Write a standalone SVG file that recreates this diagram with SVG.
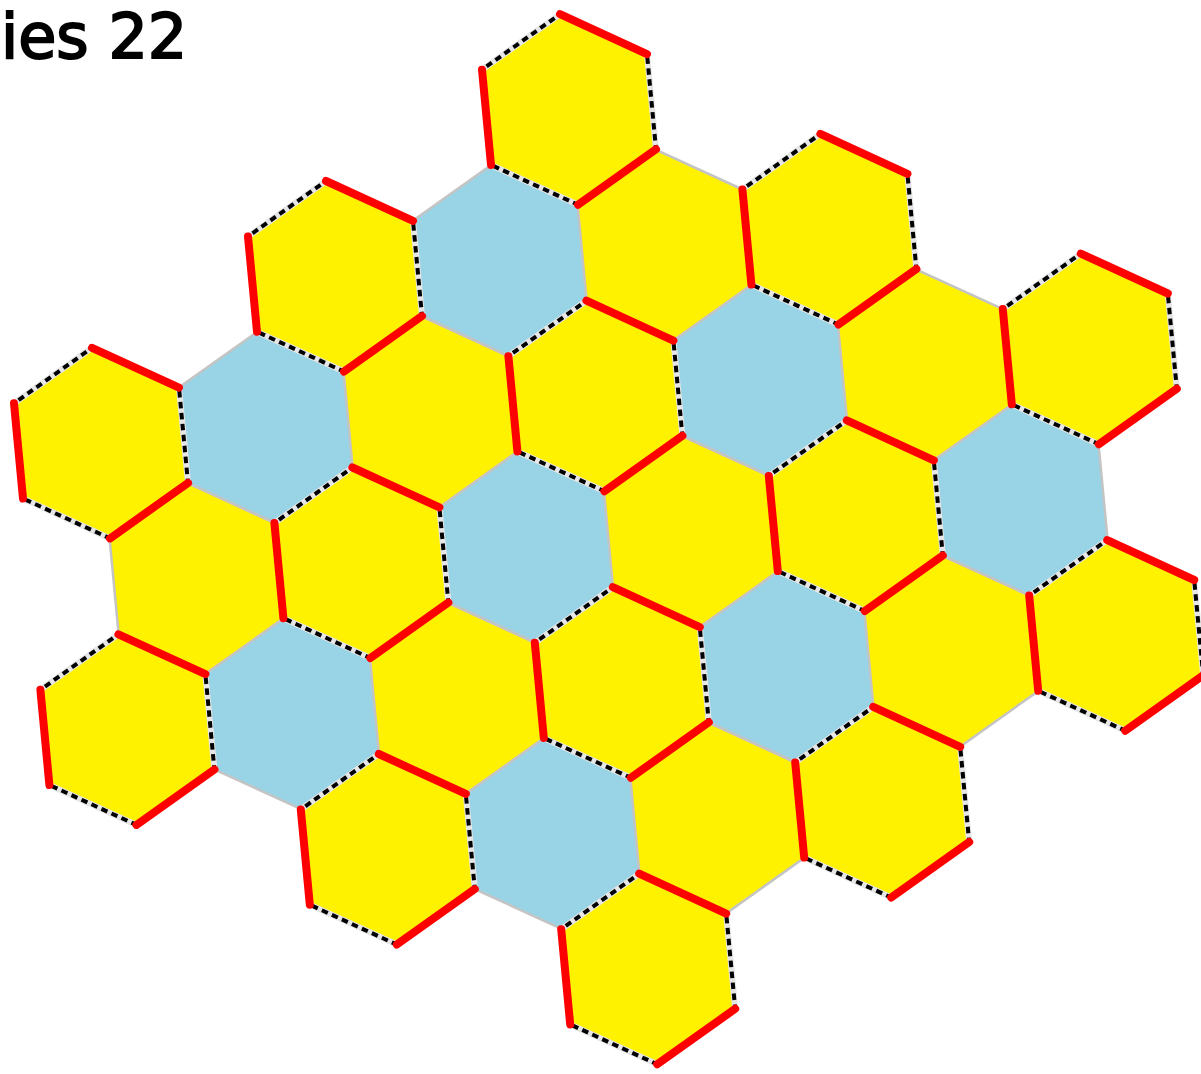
<svg xmlns="http://www.w3.org/2000/svg" xmlns:xlink="http://www.w3.org/1999/xlink" width="1201" height="1074" viewBox="0 0 1201 1074">
<style>
.yel{fill:#FFF200;stroke:#c4c4c4;stroke-width:2.5;stroke-linejoin:round}
.blu{fill:#98D4E6;stroke:#c4c4c4;stroke-width:2.5;stroke-linejoin:round}
.ryel{fill:#FFF200;stroke:none}
.under{fill:none;stroke:#e6e6e6;stroke-width:6;stroke-linejoin:round}
.dash{fill:none;stroke:#000;stroke-width:4;stroke-dasharray:6.5 4.5}
.red{fill:none;stroke:#FF0000;stroke-width:8;stroke-linecap:round}
.title{font-family:"DejaVu Sans","Liberation Sans",sans-serif;font-size:62px;fill:#000;stroke:#000;stroke-width:2}
</style>
<defs>
<polygon id="hx" points="-9,-95.3 78,-55.4 87,39.8 9,95.3 -78,55.4 -87,-39.8"/>
<g id="hexY"><use xlink:href="#hx" class="yel"/></g>
<g id="hexB"><use xlink:href="#hx" class="blu"/></g>
<g id="hexR">
<use xlink:href="#hx" class="ryel"/>
<use xlink:href="#hx" class="under"/>
<use xlink:href="#hx" class="dash"/>
<path class="red" d="M-87,-39.8 L-78,55.4 M-9,-95.3 L78,-55.4 M87,39.8 L9,95.3"/>
</g>
</defs>
<rect width="1201" height="1074" fill="#fff"/>
<text class="title" x="1" y="58">ies 22</text>
<g id="tiles-plain">
<g id="b01" transform="translate(499.8,260.6)"><use xlink:href="#hexB"/></g>
<g id="b-12" transform="translate(265.8,427.4)"><use xlink:href="#hexB"/></g>
<g id="b22" transform="translate(760.2,380.3)"><use xlink:href="#hexB"/></g>
<g id="b13" transform="translate(526.2,547.1)"><use xlink:href="#hexB"/></g>
<g id="b43" transform="translate(1020.6,500)"><use xlink:href="#hexB"/></g>
<g id="b04" transform="translate(292.2,713.9)"><use xlink:href="#hexB"/></g>
<g id="b34" transform="translate(786.6,666.8)"><use xlink:href="#hexB"/></g>
<g id="b25" transform="translate(552.6,833.6)"><use xlink:href="#hexB"/></g>
<g id="y11" transform="translate(664.6,244.9)"><use xlink:href="#hexY"/></g>
<g id="y02" transform="translate(430.6,411.7)"><use xlink:href="#hexY"/></g>
<g id="y32" transform="translate(925,364.6)"><use xlink:href="#hexY"/></g>
<g id="y-13" transform="translate(196.6,578.5)"><use xlink:href="#hexY"/></g>
<g id="y23" transform="translate(691,531.4)"><use xlink:href="#hexY"/></g>
<g id="y14" transform="translate(457,698.2)"><use xlink:href="#hexY"/></g>
<g id="y44" transform="translate(951.4,651.1)"><use xlink:href="#hexY"/></g>
<g id="y35" transform="translate(717.4,817.9)"><use xlink:href="#hexY"/></g>
</g>
<g id="tiles-marked">
<g id="r00" transform="translate(569,109.5)"><use xlink:href="#hexR"/></g>
<g id="r-11" transform="translate(335,276.3)"><use xlink:href="#hexR"/></g>
<g id="r21" transform="translate(829.4,229.2)"><use xlink:href="#hexR"/></g>
<g id="r-22" transform="translate(101,443.1)"><use xlink:href="#hexR"/></g>
<g id="r12" transform="translate(595.4,396)"><use xlink:href="#hexR"/></g>
<g id="r42" transform="translate(1089.8,348.9)"><use xlink:href="#hexR"/></g>
<g id="r03" transform="translate(361.4,562.8)"><use xlink:href="#hexR"/></g>
<g id="r33" transform="translate(855.8,515.7)"><use xlink:href="#hexR"/></g>
<g id="r-14" transform="translate(127.4,729.6)"><use xlink:href="#hexR"/></g>
<g id="r24" transform="translate(621.8,682.5)"><use xlink:href="#hexR"/></g>
<g id="r54" transform="translate(1116.2,635.4)"><use xlink:href="#hexR"/></g>
<g id="r15" transform="translate(387.8,849.3)"><use xlink:href="#hexR"/></g>
<g id="r45" transform="translate(882.2,802.2)"><use xlink:href="#hexR"/></g>
<g id="r36" transform="translate(648.2,969)"><use xlink:href="#hexR"/></g>
</g>
</svg>
